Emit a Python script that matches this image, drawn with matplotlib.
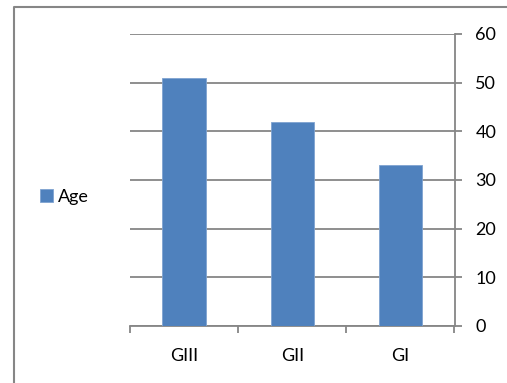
import matplotlib
matplotlib.use("Agg")
import matplotlib.pyplot as plt
from matplotlib.lines import Line2D
import numpy as np

categories = ["GIII", "GII", "GI"]
ages = [51, 42, 33]
series_name = "Age"
y_ticks = [0, 10, 20, 30, 40, 50, 60]

bar_color = "#4F81BD"
axis_gray = "#868686"

plt.rcParams["font.family"] = ["Lato", "DejaVu Sans"]

W, H = 507, 383
fig = plt.figure(figsize=(W / 100, H / 100), dpi=100)
ax = fig.add_axes([130 / W, 1 - 326 / H, (454.5 - 130) / W, (326 - 34) / H])

x = np.arange(len(categories))
ax.bar(x, ages, width=0.4, color=bar_color, edgecolor="#7FA3D0", linewidth=0.6,
       label=series_name, zorder=3)

ax.set_xlim(-0.5, len(categories) - 0.5)
ax.set_ylim(0, 60)

# horizontal gridlines
ax.set_yticks(y_ticks)
ax.yaxis.grid(True, color=axis_gray, linewidth=1.3, zorder=0)
ax.set_axisbelow(True)

# value axis on the right side
ax.yaxis.tick_right()
ax.tick_params(axis="y", which="major", direction="out", length=5, width=1.3,
               color=axis_gray, pad=10, labelsize=13, labelcolor="black")

# category labels centred, tick marks at category boundaries
ax.set_xticks(x)
ax.set_xticklabels(categories)
ax.set_xticks(np.arange(-0.5, len(categories), 1.0), minor=True)
ax.tick_params(axis="x", which="major", length=0, pad=16, labelsize=13)
ax.tick_params(axis="x", which="minor", direction="out", length=5, width=1.3,
               color=axis_gray)

for side in ("left", "top"):
    ax.spines[side].set_visible(False)
for side in ("right", "bottom"):
    ax.spines[side].set_color(axis_gray)
    ax.spines[side].set_linewidth(1.3)

# legend on the left
leg = fig.legend(loc="center left", bbox_to_anchor=(33 / W, 1 - 197 / H),
                 frameon=False, fontsize=13, handlelength=0.7, handleheight=0.7,
                 handletextpad=0.3, borderaxespad=0)

# chart area border (left and top edges)
x0, y0 = 13.5 / W, 1 - 7 / H
fig.add_artist(Line2D([x0, x0, 1.0], [0.0, y0, y0], transform=fig.transFigure,
                      color=axis_gray, linewidth=1.5))

fig.savefig("out.png", dpi=100)
